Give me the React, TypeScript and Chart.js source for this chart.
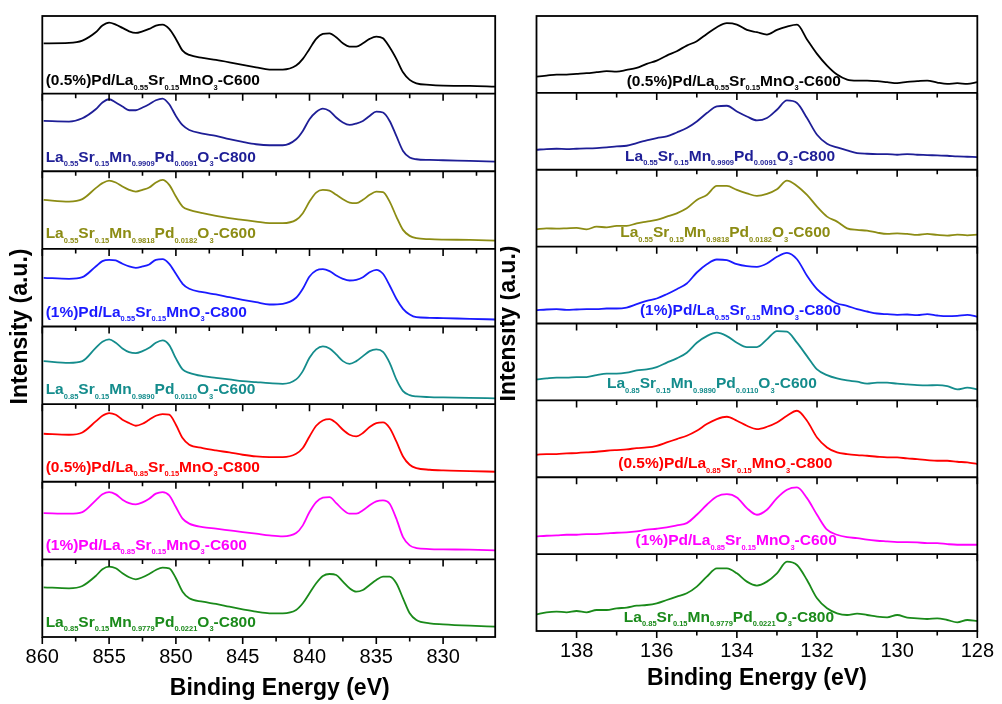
import React, { useEffect, useRef } from "react";
import { Chart, registerables } from "chart.js";

Chart.register(...registerables);

const FONT = '"Liberation Sans", Arial, Helvetica, sans-serif';

// ---------- sample names (top to bottom), "_{...}" marks a subscript ----------
const sampleLabels = [
  "(0.5%)Pd/La_{0.55}Sr_{0.15}MnO_{3}-C600",
  "La_{0.55}Sr_{0.15}Mn_{0.9909}Pd_{0.0091}O_{3}-C800",
  "La_{0.55}Sr_{0.15}Mn_{0.9818}Pd_{0.0182}O_{3}-C600",
  "(1%)Pd/La_{0.55}Sr_{0.15}MnO_{3}-C800",
  "La_{0.85}Sr_{0.15}Mn_{0.9890}Pd_{0.0110}O_{3}-C600",
  "(0.5%)Pd/La_{0.85}Sr_{0.15}MnO_{3}-C800",
  "(1%)Pd/La_{0.85}Sr_{0.15}MnO_{3}-C600",
  "La_{0.85}Sr_{0.15}Mn_{0.9779}Pd_{0.0221}O_{3}-C800",
];

const seriesColors = ["#000000", "#1e1e96", "#8c8c14", "#1a1aff", "#148c8c", "#ff0000", "#ff00ff", "#1a8a1a"];

// ---------- La 3d region (left panel) ----------
const laEnergy = [
  859.9, 858, 857, 856, 855.5, 855, 854.5, 854, 853.5, 853, 852.5, 852, 851.5, 851, 850.5, 850, 849.5, 849,
  848, 847, 846, 845, 844, 843, 842, 841, 840.5, 840, 839.5, 839, 838.5, 838, 837.5, 837, 836.5, 836, 835.5,
  835, 834.5, 834, 833.5, 833, 832.5, 832, 831, 830, 828, 826.1,
];
const la1 = [50.3, 50.7, 53, 61.3, 68, 71, 69, 65.7, 62.3, 60.7, 62.3, 64.7, 68, 69, 64.7, 54.7, 43, 38.7, 35.7, 33.7, 31.3, 28.7, 26.3, 24, 24, 28, 34.7, 44.7, 54.7, 59.7, 60.3, 56.3, 50.3, 47, 47, 50.3, 54.7, 57, 55.3, 46.3, 34.7, 21.3, 13.7, 10.3, 8.7, 8, 7.7, 7];
const la2 = [50.3, 49.7, 53, 62, 68.7, 72, 68.7, 64.7, 61, 61, 63.7, 67, 71, 72.7, 67, 55.3, 46, 41.3, 37.7, 35.3, 32, 29.3, 27, 26, 26, 32, 40.3, 52, 59.3, 62.7, 60.3, 53.7, 48.7, 46.3, 47.7, 50.3, 55.3, 59.7, 58.7, 50.3, 35.3, 20.3, 13.7, 12, 11.3, 11, 10.3, 9.7];
const la3 = [49, 47.3, 49.7, 60.7, 65.7, 68.3, 66.3, 62.3, 59, 57.3, 59, 61.3, 66.3, 69, 64, 52.3, 42.3, 39, 35.7, 33, 30.7, 29, 27.3, 25.7, 25.7, 29, 35.7, 47.3, 56.3, 59, 58.3, 54, 49.7, 46.3, 45.7, 49, 54, 57.3, 56.7, 47.3, 32.3, 19, 13, 10.7, 9.7, 9.3, 9, 8.3];
const la4 = [48.7, 47.7, 49.3, 60, 65.3, 66.7, 66, 62.7, 60, 58.7, 60, 62, 66.7, 67.3, 62.7, 52.7, 42.7, 37.7, 34.3, 32, 29.3, 26.7, 24.3, 22, 22.7, 28.7, 37.7, 50, 56, 57.3, 55.3, 51, 47.7, 46, 46.7, 49.3, 54.3, 56.7, 52.7, 41, 27.7, 17.7, 12, 9.3, 8.7, 8.3, 7.7, 7];
const la5 = [43, 41.3, 43, 56.3, 62.3, 64.7, 61.3, 55.7, 52, 51, 53, 56.3, 61.3, 63.7, 59, 45.7, 34.7, 31.3, 28, 26.3, 24.7, 23, 22, 21, 20.3, 24.7, 33, 46.3, 54.7, 57.7, 55.7, 49.7, 43, 40.3, 43, 48, 53, 54.7, 52.3, 41.3, 24.7, 13, 9, 7.7, 7, 6.7, 6.3, 5.7];
const la6 = [48, 47, 49.3, 60.3, 66, 68.7, 67, 62, 58.7, 56, 58, 62, 66, 67.7, 67, 57, 43.7, 37, 33.7, 31.3, 29.3, 27, 25.3, 24.7, 24.7, 28, 33.7, 45.3, 56, 61.3, 62.7, 58.7, 52, 47, 45.3, 48.7, 54.7, 58.7, 59.3, 53.7, 40.3, 25.3, 17, 13.7, 12, 11.3, 10.7, 10];
const la7 = [46.3, 45.7, 47.3, 59, 65, 67.3, 65, 59.7, 56.3, 55, 57, 60.7, 65.7, 67.3, 64, 52.3, 40.7, 35.7, 32.3, 30.7, 29, 27.3, 25.7, 24, 23, 26.3, 34, 47.3, 57.3, 61.7, 62.3, 56.3, 49.7, 45.7, 45.7, 49, 54, 58, 59, 55.7, 40.7, 22.3, 14, 11.3, 10.3, 10, 9.7, 9];
const la8 = [49.7, 48.7, 51, 61, 67.7, 70.3, 68.7, 63.7, 59.7, 57.7, 59.7, 63, 67, 69.3, 68.7, 58.7, 45.3, 38.7, 35.3, 33, 30.3, 27.7, 25.3, 23.7, 23.7, 27, 33.7, 43.7, 53.7, 61, 63, 62, 55.3, 48.7, 45.3, 47, 52, 57, 60.3, 60.3, 53.7, 38.7, 23.7, 17, 13.7, 12.7, 11.3, 10.3];
const laSeries = [la1, la2, la3, la4, la5, la6, la7, la8];
const laRange = [826.1, 860];
const laIntensityRange = [0, 77.6];
const laMajorTicks = [860, 855, 850, 845, 840, 835, 830];
const laMinorTicks = [857.5, 852.5, 847.5, 842.5, 837.5, 832.5, 827.5];
const laLabelAnchor = [859.75, 859.75, 859.75, 859.75, 859.75, 859.75, 859.75, 859.75];

// ---------- Sr 3d region (right panel) ----------
const srEnergy = [
  139, 138.75, 138.5, 138.25, 138, 137.75, 137.5, 137.25, 137, 136.75, 136.5, 136.25, 136, 135.75, 135.5,
  135.25, 135, 134.75, 134.5, 134.25, 134, 133.75, 133.5, 133.25, 133, 132.75, 132.5, 132.25, 132, 131.75,
  131.5, 131.25, 131, 130.75, 130.5, 130.25, 130, 129.75, 129.5, 129.25, 129, 128.75, 128.5, 128.25, 128,
];
const sr1 = [16.3, 17.3, 18.3, 18.3, 19, 19.7, 20.7, 21.7, 21.3, 23, 25, 29, 32.3, 37.3, 41.7, 47.3, 51.7, 59, 65.7, 69.7, 68.3, 63, 60.7, 58.3, 63, 66.3, 68.3, 53.5, 39, 27.3, 18.3, 13.3, 12.3, 12.3, 11.7, 10.7, 9.7, 11, 11.7, 12.3, 10.3, 9, 9.7, 9, 10.7];
const sr2 = [20, 20.7, 21, 20.7, 21, 21.3, 21.7, 22.3, 23.3, 24, 26.7, 29.3, 31.7, 33.3, 37.3, 41.7, 48.3, 56.7, 63.3, 64, 58.3, 53.3, 49.3, 51.7, 60, 69.3, 66.7, 51.7, 35, 26, 22.3, 19.3, 16.7, 16, 15.7, 15.7, 15, 15.7, 15, 14.7, 14.3, 14, 13.3, 13, 12.7];
const sr3 = [17.3, 18.3, 18, 18.3, 18.7, 17.3, 20, 19.3, 20.7, 20.7, 23.3, 25, 26.7, 30, 33.3, 38.3, 46.7, 51.7, 60.7, 60.7, 56.7, 53.3, 50.7, 52.7, 57.3, 66, 60.7, 51.7, 40, 30, 25, 18.3, 16.7, 16, 14, 12.7, 13.3, 12.7, 11.7, 12.7, 11.7, 11, 12, 11.3, 12];
const sr4 = [13.3, 14, 14.3, 13.7, 14, 14.3, 14.3, 15, 15, 16, 19.3, 22.7, 25, 29.3, 34.3, 40, 51, 59.3, 64, 63.3, 59.3, 57.3, 56.7, 60, 66.7, 70.7, 64.3, 47.7, 34.3, 26, 20, 17.7, 14.3, 12, 10, 9.3, 8.7, 9, 8.3, 9.3, 8, 7.3, 7.7, 8.7, 6.7];
const sr5 = [21, 22, 22.7, 22.7, 23.3, 23.3, 25.3, 26.7, 26.7, 27.7, 30, 31, 33.3, 37.7, 42, 47.7, 57.7, 64.3, 67.7, 64.3, 57.7, 53.3, 53.3, 61, 69.3, 68.7, 57.7, 44.3, 31, 25.3, 22, 20, 18.7, 16.7, 17.7, 17.7, 16.7, 16, 15.3, 15, 15.3, 14.3, 11, 12.7, 11];
const sr6 = [22.5, 23.2, 23.2, 23.8, 24.2, 24.8, 25.5, 26.5, 27.2, 27.8, 29.2, 29.8, 31.5, 34.8, 38.2, 41.5, 46.5, 53.2, 58.2, 60.5, 56.5, 51.5, 48.2, 50.5, 54.8, 61.5, 66.5, 56.5, 39.8, 29.8, 24.8, 23.2, 22.2, 21.5, 20.5, 19.8, 19.8, 18.8, 18.2, 17.2, 16.5, 16.5, 15.5, 14.8, 13.2];
const sr7 = [17.7, 18.4, 18.7, 19.4, 19.4, 20, 20, 20.7, 21.4, 21.7, 22.7, 24.4, 25.4, 26.7, 28.7, 31, 39.4, 49.4, 57.7, 60, 56.7, 46, 39.4, 44.4, 56, 64.4, 66.7, 56, 39.4, 24.4, 19.4, 17, 16, 14.4, 13.4, 12.7, 12, 12, 11.7, 11, 11, 10, 9.4, 9.4, 9.4];
const sr8 = [16.7, 18.7, 19.4, 18.7, 20, 18.7, 21, 21, 22.7, 23.4, 25.4, 26, 27.7, 31, 34.4, 37.7, 44.4, 54.4, 62.7, 62.7, 57.7, 49.4, 45.4, 49.4, 57.7, 69.4, 66, 51, 32.7, 22.7, 17.7, 16, 17.4, 16, 14.4, 13.7, 16, 13.4, 12.7, 12, 12.7, 11, 8.7, 11, 10];
const srSeries = [sr1, sr2, sr3, sr4, sr5, sr6, sr7, sr8];
const srRange = [128, 139];
const srIntensityRange = [0, 76.9];
const srMajorTicks = [138, 136, 134, 132, 130, 128];
const srMinorTicks = [137, 135, 133, 131, 129];
const srLabelAnchor = [136.75, 136.79, 136.91, 136.42, 137.24, 136.96, 136.53, 136.82];

const xAxisTitle = "Binding Energy (eV)";
const yAxisTitle = "Intensity (a.u.)";

type Seg = { t: string; sub: boolean };
function parseRich(s: string): Seg[] {
  const out: Seg[] = [];
  const re = /_\{([^}]*)\}/g;
  let last = 0;
  let m: RegExpExecArray | null;
  while ((m = re.exec(s))) {
    if (m.index > last) out.push({ t: s.slice(last, m.index), sub: false });
    out.push({ t: m[1], sub: true });
    last = re.lastIndex;
  }
  if (last < s.length) out.push({ t: s.slice(last), sub: false });
  return out;
}

type PanelProps = {
  energies: number[];
  series: number[][];
  xRange: number[];
  yRange: number[];
  majorTicks: number[];
  minorTicks: number[];
  labelAnchor: number[];
  labelLift: number[];
  padding: { left: number; right: number; top: number; bottom: number };
  width: number;
  height: number;
  pageLeft: number;
  xTitleShift: number;
  xTitleDrop: number;
  yTitleX: number;
  yTitleY: number;
};

function SpectraPanel(p: PanelProps) {
  const ref = useRef<HTMLCanvasElement | null>(null);

  useEffect(() => {
    if (!ref.current) return;
    const yScales: Record<string, any> = {};
    p.series.forEach((_, i) => {
      yScales["y" + i] = {
        type: "linear",
        display: false,
        position: "right",
        stack: "spectra",
        stackWeight: 1,
        weight: i,
        min: p.yRange[0],
        max: p.yRange[1],
      };
    });

    const framePlugin = {
      id: "stackFrames",
      afterDraw(chart: any) {
        const { ctx, chartArea, scales } = chart;
        const xs = scales.x;
        const n = p.series.length;
        ctx.save();
        ctx.strokeStyle = "#000";
        ctx.lineWidth = 1.6;
        // tick marks hanging from the top of each lower sub-panel
        for (let i = 1; i < n; i++) {
          const top = scales["y" + i].top;
          ctx.beginPath();
          p.majorTicks.forEach((v) => {
            const px = xs.getPixelForValue(v);
            ctx.moveTo(px, top);
            ctx.lineTo(px, top + 7);
          });
          p.minorTicks.forEach((v) => {
            const px = xs.getPixelForValue(v);
            ctx.moveTo(px, top);
            ctx.lineTo(px, top + 4.5);
          });
          ctx.stroke();
        }
        // bottom axis ticks (outward)
        const bottom = scales["y" + (n - 1)].bottom;
        ctx.beginPath();
        p.majorTicks.forEach((v) => {
          const px = xs.getPixelForValue(v);
          ctx.moveTo(px, bottom);
          ctx.lineTo(px, bottom + 7);
        });
        p.minorTicks.forEach((v) => {
          const px = xs.getPixelForValue(v);
          ctx.moveTo(px, bottom);
          ctx.lineTo(px, bottom + 4.5);
        });
        ctx.stroke();
        // frames and dividers
        ctx.lineWidth = 1.8;
        ctx.strokeRect(chartArea.left, chartArea.top, chartArea.right - chartArea.left, chartArea.bottom - chartArea.top);
        ctx.beginPath();
        for (let i = 1; i < n; i++) {
          const top = scales["y" + i].top;
          ctx.moveTo(chartArea.left, top);
          ctx.lineTo(chartArea.right, top);
        }
        ctx.stroke();

        // sample names
        ctx.textBaseline = "alphabetic";
        ctx.textAlign = "left";
        for (let i = 0; i < n; i++) {
          const ys = scales["y" + i];
          let x = xs.getPixelForValue(p.labelAnchor[i]);
          const y = ys.bottom - p.labelLift[i];
          ctx.fillStyle = seriesColors[i];
          parseRich(sampleLabels[i]).forEach((seg) => {
            ctx.font = seg.sub ? `bold 7.5px ${FONT}` : `bold 15.5px ${FONT}`;
            ctx.fillText(seg.t, x, seg.sub ? y + 4.5 : y);
            x += ctx.measureText(seg.t).width;
          });
        }

        // axis titles
        ctx.fillStyle = "#000";
        ctx.font = `bold 23px ${FONT}`;
        ctx.textAlign = "center";
        ctx.fillText(xAxisTitle, (chartArea.left + chartArea.right) / 2 + p.xTitleShift, chartArea.bottom + p.xTitleDrop);
        ctx.translate(p.yTitleX, p.yTitleY);
        ctx.rotate(-Math.PI / 2);
        ctx.fillText(yAxisTitle, 0, 0);
        ctx.restore();
      },
    };

    const chart = new Chart(ref.current, {
      type: "line",
      data: {
        datasets: p.series.map((vals, i) => ({
          data: p.energies.map((e, j) => ({ x: e, y: vals[j] })),
          yAxisID: "y" + i,
          xAxisID: "x",
          borderColor: seriesColors[i],
          borderWidth: 1.8,
          pointRadius: 0,
          fill: false,
          cubicInterpolationMode: "monotone",
        })),
      },
      options: {
        responsive: false,
        animation: false,
        events: [],
        layout: { padding: p.padding },
        plugins: { legend: { display: false }, tooltip: { enabled: false } },
        scales: {
          x: {
            type: "linear",
            position: "bottom",
            reverse: true,
            min: p.xRange[0],
            max: p.xRange[1],
            grid: { display: false, drawTicks: false },
            border: { display: false },
            afterBuildTicks: (axis: any) => {
              axis.ticks = p.majorTicks.map((v) => ({ value: v }));
            },
            ticks: {
              color: "#000",
              padding: 8,
              maxRotation: 0,
              autoSkip: false,
              font: { family: FONT, size: 20 },
            },
          },
          ...yScales,
        },
      } as any,
      plugins: [framePlugin],
    });
    return () => chart.destroy();
  }, []);

  return (
    <canvas
      ref={ref}
      width={p.width}
      height={p.height}
      style={{ position: "absolute", left: p.pageLeft, top: 0, width: p.width, height: p.height, display: "block" }}
    />
  );
}

export default function App() {
  return (
    <div style={{ position: "absolute", left: 0, top: 0, width: 1002, height: 704, background: "#fff", overflow: "hidden" }}>
      <SpectraPanel
        energies={laEnergy}
        series={laSeries}
        xRange={laRange}
        yRange={laIntensityRange}
        majorTicks={laMajorTicks}
        minorTicks={laMinorTicks}
        labelAnchor={laLabelAnchor}
        labelLift={[8.6, 9.6, 10.6, 9.8, 10, 10, 9.4, 10.3]}
        padding={{ left: 42.3, right: 4.8, top: 16, bottom: 27 }}
        width={500}
        height={704}
        pageLeft={0}
        xTitleShift={11}
        xTitleDrop={58}
        yTitleX={26.5}
        yTitleY={326.5}
      />
      <SpectraPanel
        energies={srEnergy}
        series={srSeries}
        xRange={srRange}
        yRange={srIntensityRange}
        majorTicks={srMajorTicks}
        minorTicks={srMinorTicks}
        labelAnchor={srLabelAnchor}
        labelLift={[7, 9, 9.6, 8.5, 12, 9, 9, 9.3]}
        padding={{ left: 36.5, right: 18, top: 16, bottom: 33 }}
        width={502}
        height={704}
        pageLeft={500}
        xTitleShift={0}
        xTitleDrop={54}
        yTitleX={15}
        yTitleY={323.5}
      />
    </div>
  );
}
